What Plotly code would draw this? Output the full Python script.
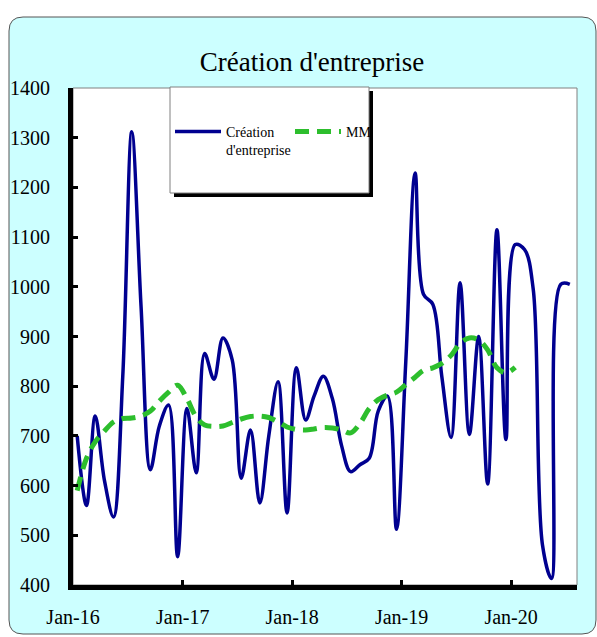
import plotly.graph_objects as go

months = [
    "2016-01-15", "2016-02-15", "2016-03-15", "2016-04-15", "2016-05-15", "2016-06-15",
    "2016-07-15", "2016-08-15", "2016-09-15", "2016-10-15", "2016-11-15", "2016-12-15",
    "2017-01-15", "2017-02-15", "2017-03-15", "2017-04-15", "2017-05-15", "2017-06-15",
    "2017-07-15", "2017-08-15", "2017-09-15", "2017-10-15", "2017-11-15", "2017-12-15",
    "2018-01-15", "2018-02-15", "2018-03-15", "2018-04-15", "2018-05-15", "2018-06-15",
    "2018-07-15", "2018-08-15", "2018-09-15", "2018-10-15", "2018-11-15", "2018-12-15",
    "2019-01-15", "2019-02-15", "2019-03-15", "2019-04-15", "2019-05-15", "2019-06-15",
    "2019-07-15", "2019-08-15", "2019-09-15", "2019-10-15", "2019-11-15", "2019-12-15",
    "2020-01-15", "2020-02-15", "2020-03-15", "2020-04-15", "2020-05-15", "2020-06-15",
    "2020-07-15",
]

creation = [
    700, 560, 740, 610, 537, 820, 1312, 960, 632, 720, 762, 457,
    755, 626, 866, 814, 897, 853, 615, 712, 565, 700, 809, 545,
    837, 732, 780, 820, 775, 680, 628, 642, 655, 750, 780, 512,
    850, 1229, 985, 965, 820, 697, 1008, 703, 900, 603, 1115, 693,
    1085, 1075, 995, 480, 413, 1005, 1005,
]

mm = [
    590, 655, 688, 710, 728, 735, 736, 740, 750, 770, 788, 802,
    775, 738, 722, 719, 720, 727, 734, 739, 740, 737, 728, 718,
    713, 712, 714, 717, 716, 712, 706, 725, 755, 773, 782, 788,
    803, 818, 832, 837, 846, 862, 886, 897, 893, 873, 837, 827,
    838,
]

title_text = "Création d'entreprise"
name_creation = "Création<br>d'entreprise"
name_mm = "MM"

FONT = "Liberation Serif"
W, H = 597, 637
L, R, T, B = 73, 20, 88, 52
PW, PH = W - L - R, H - T - B


def px(x):
    return (x - L) / PW


def py(y):
    return (H - B - y) / PH


fig = go.Figure()
fig.add_trace(go.Scatter(
    x=months, y=creation, name=name_creation, mode="lines",
    line=dict(color="#000090", width=3.5, shape="spline", smoothing=1.0),
))
fig.add_trace(go.Scatter(
    x=months[:len(mm)], y=mm, name=name_mm, mode="lines",
    line=dict(color="#2DBE2D", width=5, dash="14px,8px", shape="spline", smoothing=1.0),
))

# rounded cyan background
x0, x1, y0, y1 = px(9), px(596), py(634), py(17)
rx, ry = 14 / PW, 14 / PH
path = (f"M{x0+rx},{y1} L{x1-rx},{y1} Q{x1},{y1} {x1},{y1-ry} "
        f"L{x1},{y0+ry} Q{x1},{y0} {x1-rx},{y0} L{x0+rx},{y0} "
        f"Q{x0},{y0} {x0},{y0+ry} L{x0},{y1-ry} Q{x0},{y1} {x0+rx},{y1} Z")
shapes = [
    dict(type="path", xref="paper", yref="paper", path=path,
         fillcolor="#CCFFFF", line=dict(color="#555555", width=1), layer="below"),
    dict(type="rect", xref="paper", yref="paper", x0=0, x1=1, y0=0, y1=1,
         fillcolor="white", line=dict(color="#808080", width=1), layer="below"),
    # legend shadow and box
    dict(type="rect", xref="paper", yref="paper", x0=px(174), x1=px(373), y0=py(197), y1=py(91),
         fillcolor="black", line=dict(width=0), layer="above"),
    dict(type="rect", xref="paper", yref="paper", x0=px(170), x1=px(369), y0=py(193), y1=py(87),
         fillcolor="white", line=dict(color="#808080", width=1), layer="above"),
]

fig.update_layout(
    width=W, height=H,
    margin=dict(l=L, r=R, t=T, b=B, pad=0),
    paper_bgcolor="white",
    plot_bgcolor="rgba(0,0,0,0)",
    font=dict(family=FONT, color="black", size=20),
    title=dict(text=title_text, font=dict(family=FONT, size=27, color="black"),
               xref="paper", x=px(312), xanchor="center",
               yref="container", y=1 - 62 / H, yanchor="middle"),
    showlegend=True,
    legend=dict(
        orientation="h", x=px(170), y=py(116), xanchor="left", yanchor="top",
        bgcolor="rgba(0,0,0,0)", borderwidth=0,
        font=dict(family=FONT, size=14, color="black"),
        valign="top", itemwidth=46, entrywidth=59, entrywidthmode="pixels",
        tracegroupgap=0,
    ),
    shapes=shapes,
    xaxis=dict(
        type="date", range=["2016-01-01", "2020-08-08"],
        tick0="2016-01-01", dtick="M12", tickformat="%b-%y",
        showgrid=False, zeroline=False,
        showline=True, linecolor="black", linewidth=5,
        ticks="inside", ticklen=5, tickwidth=3, tickcolor="black",
        ticklabelstandoff=10, automargin=False,
        tickfont=dict(family=FONT, size=20, color="black"),
    ),
    yaxis=dict(
        range=[400, 1400], dtick=100, tick0=400,
        showgrid=False, zeroline=False,
        showline=True, linecolor="black", linewidth=5,
        ticks="inside", ticklen=5, tickwidth=3, tickcolor="black",
        ticklabelstandoff=14, automargin=False,
        tickfont=dict(family=FONT, size=20, color="black"),
    ),
)

fig.write_html(
    "out.html",
    config={"displayModeBar": False},
    post_script="document.body.style.margin='0px';document.body.style.overflow='hidden';",
)
